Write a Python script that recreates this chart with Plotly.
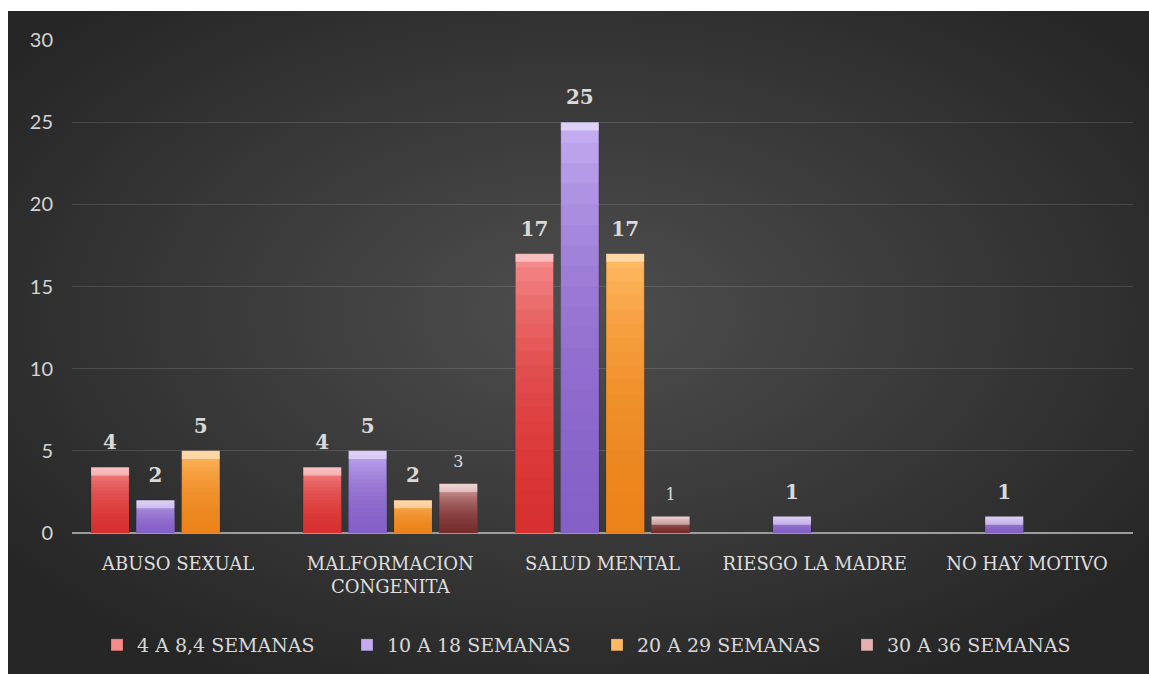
import base64
import plotly.graph_objects as go

# ---- data ----
categories = ["ABUSO SEXUAL", "MALFORMACION<br>CONGENITA", "SALUD MENTAL",
              "RIESGO LA MADRE", "NO HAY MOTIVO"]
series_names = ["4 A 8,4 SEMANAS", "10 A 18 SEMANAS", "20 A 29 SEMANAS", "30 A 36 SEMANAS"]
s_4_8 = [4, 4, 17, None, None]
s_10_18 = [2, 5, 25, 1, 1]
s_20_29 = [5, 2, 17, None, None]
s_30_36 = [None, 3, 1, None, None]
y_ticks = [0, 5, 10, 15, 20, 25, 30]

series_values = [s_4_8, s_10_18, s_20_29, s_30_36]

# ---- styles ----
SERIF = "DejaVu Serif, Liberation Serif, serif"
top_colors = ["#f48a8a", "#c2abf0", "#ffb962", "#e4b0b0"]
bottom_rgb = [(214, 44, 44), (128, 92, 200), (236, 128, 24), (104, 30, 30)]
label_fonts = [
    dict(family=SERIF, size=20, color="#d9d9d9", weight="bold"),
    dict(family=SERIF, size=20, color="#d9d9d9", weight="bold"),
    dict(family=SERIF, size=20, color="#d9d9d9", weight="bold"),
    dict(family=SERIF, size=16, color="#d9d9d9"),
]
N_LAYERS = 20
LABEL_LIFT = 0.6   # empty space (in y units) between a bar top and its label
CAP = 0.5          # height of the light bevel at the bar top

fig = go.Figure()

for i, (name, vals) in enumerate(zip(series_names, series_values)):
    grp = str(i)
    fig.add_trace(go.Bar(
        x=categories, y=vals, name=name, offsetgroup=grp,
        marker=dict(color=top_colors[i], line=dict(width=1, color="rgba(0,0,0,0.18)")),
        hoverinfo="skip",
    ))
    # vertical shading: translucent layers that darken toward the base
    r, g, b = bottom_rgb[i]
    for k in range(1, N_LAYERS):
        fig.add_trace(go.Bar(
            x=categories,
            y=[None if v is None else v * k / N_LAYERS for v in vals],
            offsetgroup=grp, showlegend=False, hoverinfo="skip",
            marker=dict(color=f"rgba({r},{g},{b},0.10)", line=dict(width=0)),
        ))
    # light bevel at the top of each bar
    fig.add_trace(go.Bar(
        x=categories,
        y=[None if v is None else CAP for v in vals],
        base=[None if v is None else v - CAP for v in vals],
        offsetgroup=grp, showlegend=False, hoverinfo="skip",
        marker=dict(color="rgba(255,255,255,0.45)", line=dict(width=0)),
    ))
    # value labels, sitting on a transparent spacer above each bar
    fig.add_trace(go.Bar(
        x=categories,
        y=[None if v is None else LABEL_LIFT for v in vals],
        base=vals,
        offsetgroup=grp, showlegend=False, hoverinfo="skip",
        marker=dict(color="rgba(0,0,0,0)", line=dict(width=0)),
        text=[("" if v is None else str(v)) for v in vals],
        textposition="outside", textfont=label_fonts[i], cliponaxis=False,
        constraintext="none",
    ))

# dark radial background for the chart area
svg = ('<svg xmlns="http://www.w3.org/2000/svg" width="1141" height="670" '
       'viewBox="0 0 1141 670" preserveAspectRatio="none"><defs>'
       '<radialGradient id="g" cx="0.5" cy="0.45" r="0.62">'
       '<stop offset="0" stop-color="#4e4e4e"/><stop offset="1" stop-color="#262626"/>'
       '</radialGradient></defs><rect width="1141" height="670" fill="url(#g)"/></svg>')
bg_src = "data:image/svg+xml;base64," + base64.b64encode(svg.encode()).decode()

plot_w, plot_h = 1061, 493
fig.add_layout_image(dict(
    source=bg_src, xref="paper", yref="paper",
    x=-64 / plot_w, y=(533 - 11) / plot_h,
    sizex=1141 / plot_w, sizey=670 / plot_h,
    xanchor="left", yanchor="top", sizing="stretch", layer="below",
))

fig.update_layout(
    width=1149, height=674,
    margin=dict(l=72, r=16, t=40, b=141, autoexpand=False),
    paper_bgcolor="white", plot_bgcolor="rgba(0,0,0,0)",
    barmode="group", bargap=0.145, bargroupgap=0.16,
    showlegend=True,
    legend=dict(
        orientation="h", x=(97 - 72) / plot_w, xanchor="left",
        y=(533 - 645) / plot_h, yanchor="middle",
        font=dict(family=SERIF, size=19, color="#d9d9d9"),
        entrywidth=205, entrywidthmode="pixels", bgcolor="rgba(0,0,0,0)",
        itemclick=False, itemdoubleclick=False,
    ),
    xaxis=dict(
        type="category", showgrid=False, showline=False, ticks="",
        tickfont=dict(family=SERIF, size=18, color="#dedede"),
        ticklabelstandoff=18,
    ),
    yaxis=dict(
        range=[0, 30], tickvals=y_ticks, showline=False, ticks="",
        gridcolor="rgba(255,255,255,0.13)", gridwidth=1,
        zeroline=True, zerolinecolor="#9c9c9c", zerolinewidth=2,
        tickfont=dict(family="Lato, Noto Sans", size=20, color="#d4d4d4"),
        ticklabelstandoff=18,
    ),
)

fig.write_html("out.html")
